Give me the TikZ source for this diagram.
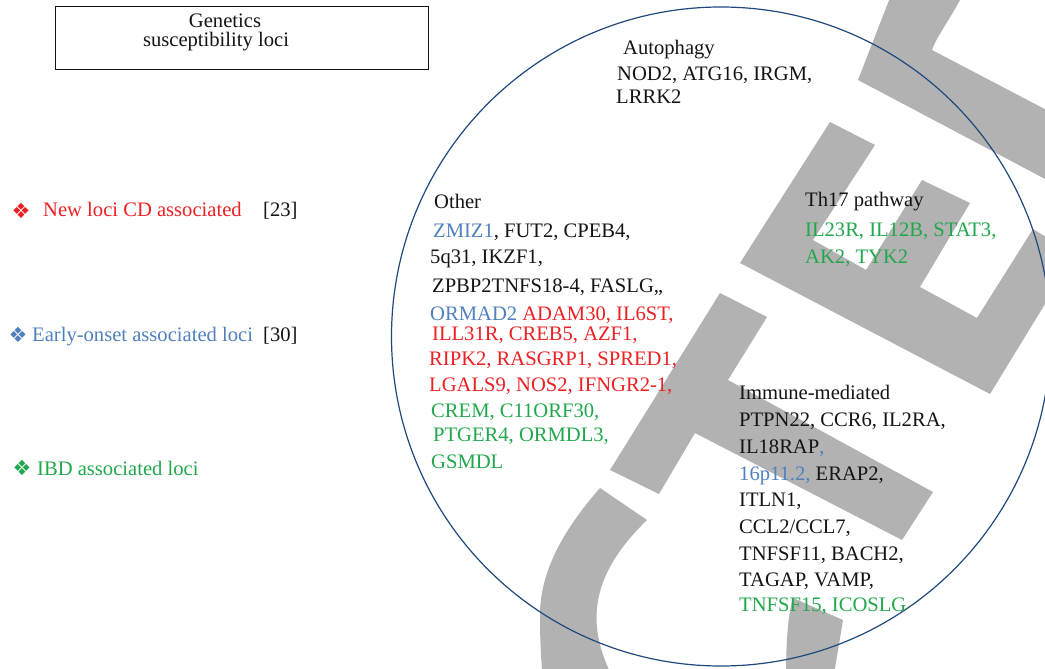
\documentclass[tikz,border=0pt]{standalone}
\usepackage{fontspec}
\setmainfont{Liberation Serif}
\newfontfamily\symfont{DejaVu Sans}
\definecolor{tred}{RGB}{237,32,36}
\definecolor{tblue}{RGB}{79,129,189}
\definecolor{tgreen}{RGB}{34,168,76}
\definecolor{tcirc}{RGB}{31,73,125}
\definecolor{wm}{RGB}{178,178,178}
\definecolor{tblack}{RGB}{20,20,20}
\begin{document}
\begin{tikzpicture}[x=1pt,y=-1pt,
  txt/.style={anchor=base west,inner sep=0pt,font=\fontsize{20.6}{24}\selectfont,text=tblack},
  sym/.style={anchor=center,inner sep=0pt,font=\symfont\fontsize{21}{21}\selectfont},
  wmark/.style={fill=wm,draw=none}]
\useasboundingbox (0,0) rectangle (1045,669);
\fill[white] (0,0) rectangle (1045,669);
% watermark
\begin{scope}
\clip (0,0) rectangle (1045,669);
\fill[wmark] (720,293) -- (767,317) -- (728,380) -- (933,492) -- (902,540) -- (695,433) -- (659,494) -- (610,470) -- cycle;
\fill[wmark] (740,263) -- (830,122) -- (875,145) -- (813,240) -- (866,270) -- (922,180) -- (970,203) -- (920,287) -- (977,318) -- (1033,229) -- (1075,255) -- (990,394) -- cycle;
\fill[wmark] (858,80) -- (893,-10) -- (968,-10) -- (960,0) .. controls (948,22) and (936,38) .. (932,50) -- (1100,138) -- (1100,208) -- cycle;
\fill[wmark] (600,488) .. controls (565,528) and (540,570) .. (540,615) .. controls (540,640) and (541,660) .. (543,680) -- (614,680) .. controls (588,630) and (585,580) .. (647,520) -- cycle;
\fill[wmark] (793,598) -- (843,620) -- (833,680) -- (786,680) .. controls (786,640) and (788,615) .. (793,598) -- cycle;
\end{scope}
% frames
\node[draw=tblack,line width=1pt,minimum width=373pt,minimum height=63pt,inner sep=0pt] (box) at (241.5,38.5) {};
\node[draw=tcirc,line width=1.2pt,circle,minimum size=659pt,inner sep=0pt] (ring) at (721,336.5) {};
% title
\node[txt,anchor=base] (gen) at (225,28) {Genetics};
\node[txt,anchor=base] (susc) at (216,47) {susceptibility loci};
% legend
\node[sym,text=tred] (s1) at (21,211) {❖};
\node[txt,text=tred] (l1) at (43,216) {New loci CD associated};
\node[txt] (r1) at (263,216) {[23]};
\node[sym,text=tblue] (s2) at (18,335) {❖};
\node[txt,text=tblue] (l2) at (32,341.7) {Early-onset associated loci};
\node[txt] (r2) at (263,341.7) {[30]};
\node[sym,text=tgreen] (s3) at (22,468) {❖};
\node[txt,text=tgreen] (l3) at (37,475) {IBD associated loci};
% autophagy
\node[txt] (a1) at (623,55) {Autophagy};
\node[txt] (a2) at (617,80.7) {NOD2, ATG16, IRGM,};
\node[txt] (a3) at (616,103) {LRRK2};
% other
\node[txt] (o1) at (434,208) {Other};
\node[txt] (o2) at (433,237) {\textcolor{tblue}{ZMIZ1}, FUT2, CPEB4,};
\node[txt] (o3) at (430,263) {5q31, IKZF1,};
\node[txt] (o4) at (432,292) {ZPBP2TNFS18-4, FASLG,,};
\node[txt] (o5) at (430,320) {\textcolor{tblue}{ORMAD2} \textcolor{tred}{ADAM30, IL6ST,}};
\node[txt,text=tred] (o6) at (432,340.7) {ILL31R, CREB5, AZF1,};
\node[txt,text=tred] (o7) at (429,365) {RIPK2, RASGRP1, SPRED1,};
\node[txt,text=tred] (o8) at (429,391.7) {LGALS9, NOS2, IFNGR2-1,};
\node[txt,text=tgreen] (o9) at (431,417) {CREM, C11ORF30,};
\node[txt,text=tgreen] (o10) at (433,441.7) {PTGER4, ORMDL3,};
\node[txt,text=tgreen] (o11) at (431,468) {GSMDL};
% th17
\node[txt] (t1) at (805,206.7) {Th17 pathway};
\node[txt,text=tgreen] (t2) at (805,236) {IL23R, IL12B, STAT3,};
\node[txt,text=tgreen] (t3) at (805,263) {AK2, TYK2};
% immune
\node[txt] (i1) at (739,399) {Immune-mediated};
\node[txt] (i2) at (739,426.7) {PTPN22, CCR6, IL2RA,};
\node[txt] (i3) at (739,453) {IL18RAP\textcolor{tblue}{,}};
\node[txt] (i4) at (739,480) {\textcolor{tblue}{16p11.2,} ERAP2,};
\node[txt] (i5) at (739,506.7) {ITLN1,};
\node[txt] (i6) at (739,533) {CCL2/CCL7,};
\node[txt] (i7) at (739,560) {TNFSF11, BACH2,};
\node[txt] (i8) at (739,586) {TAGAP, VAMP,};
\node[txt,text=tgreen] (i9) at (739,611.7) {TNFSF15, ICOSLG};
\end{tikzpicture}
\end{document}
